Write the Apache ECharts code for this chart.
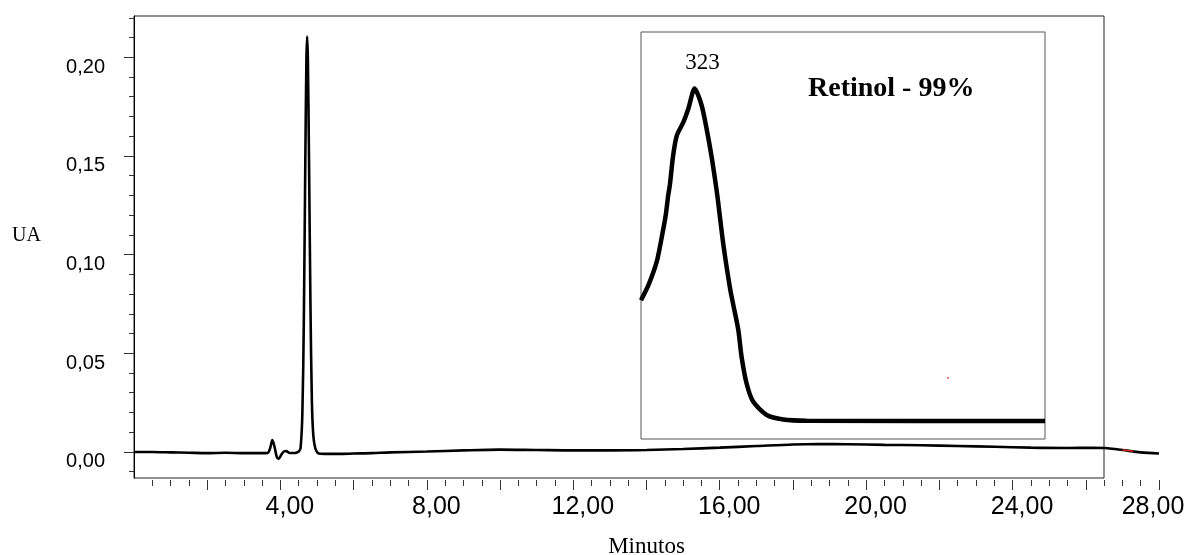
<!DOCTYPE html>
<html>
<head>
<meta charset="utf-8">
<script src="https://cdn.jsdelivr.net/npm/echarts@6/dist/echarts.min.js"></script>
<style>
  html, body { margin: 0; padding: 0; background: #fff; }
  #chart { width: 1190px; height: 555px; }
</style>
</head>
<body>
<div id="chart"></div>
<script>
// chromatogram: [minutes, UA]
const chromTime = [0.0, 0.5, 1.0, 1.5, 2.0, 2.5, 3.0, 3.5, 3.65, 3.72, 3.78, 3.84, 3.90, 3.95, 4.02, 4.10, 4.16, 4.25, 4.40,
  4.50, 4.55, 4.60, 4.64, 4.68, 4.71, 4.73, 4.75, 4.78, 4.82, 4.86, 4.90, 4.95, 5.00, 5.05, 5.3, 5.6, 6.0, 6.5, 7.0, 8.0,
  9.0, 10.0, 11.0, 12.0, 13.0, 14.0, 15.0, 16.0, 17.0, 18.0, 18.7, 19.5, 20.5, 21.5, 22.5, 23.5, 24.5, 25.5, 26.2, 26.6,
  27.0, 27.5, 28.0];
const chromUA = [0.0000, 0.0000, -0.0002, -0.0004, -0.0006, -0.0004, -0.0006, -0.0006, -0.0005, 0.0020, 0.0060, 0.0025, -0.0025, -0.0035, -0.0015, 0.0003, 0.0004, -0.0005, -0.0005,
  0.0002, 0.0020, 0.0200, 0.0680, 0.1480, 0.1990, 0.2105, 0.1990, 0.1500, 0.0750, 0.0250, 0.0080, 0.0020, 0.0000, -0.0008, -0.0010, -0.0010, -0.0008, -0.0006, -0.0002, 0.0002,
  0.0008, 0.0012, 0.0010, 0.0008, 0.0008, 0.0010, 0.0015, 0.0022, 0.0030, 0.0038, 0.0040, 0.0039, 0.0036, 0.0034, 0.0030, 0.0026, 0.0022, 0.0020, 0.0021, 0.0019,
  0.0010, -0.0002, -0.0008];
// small red trace near the end
const redTime = [27.0, 27.15, 27.3];
const redUA = [0.0010, 0.0007, 0.0003];

// inset UV spectrum: [nm, relative absorbance]
const specNm = [310.0, 311.8, 313.8, 315.0, 316.0, 316.6, 317.0, 317.8, 318.7, 320.3, 321.5, 323.0, 324.7, 325.9, 327.2, 328.4,
  328.8, 330.0, 331.6, 332.4, 333.6, 334.4, 335.6, 337.2, 340.5, 344.5, 350.2, 408.0];
const specAbs = [0.341, 0.378, 0.435, 0.494, 0.550, 0.599, 0.624, 0.697, 0.746, 0.779, 0.812, 0.861, 0.820, 0.763, 0.689, 0.607,
  0.575, 0.476, 0.370, 0.329, 0.268, 0.202, 0.137, 0.092, 0.059, 0.048, 0.045, 0.044];
const specPeakNm = 323;
const specPeakAbs = 0.861;
// stray red speck inside the inset
const speckNm = [384.5];
const speckAbs = [0.150];

const xLabelTicks = [4, 8, 12, 16, 20, 24, 28];
const yLabelTicks = [0, 0.05, 0.10, 0.15, 0.20];

const xMinor = [];
for (let i = 1; i <= 56; i++) xMinor.push(i * 0.5);
const xMid = [];
for (let i = 1; i <= 14; i++) xMid.push(i * 2);
const yMinor = [];
for (let i = -1; i <= 22; i++) yMinor.push(+(i * 0.01).toFixed(2));

const fmtComma = (v, d) => v.toFixed(d).replace('.', ',');

const chart = echarts.init(document.getElementById('chart'));
const SANS = 'Liberation Sans, Arial, sans-serif';
const SERIF = 'Liberation Serif, Times New Roman, serif';

chart.setOption({
  animation: false,
  backgroundColor: '#fff',
  title: [
    { text: 'Retinol - 99%', left: 803, top: 70,
      textStyle: { fontFamily: SERIF, fontWeight: 'bold', fontSize: 28, color: '#000' } },
    { text: 'UA', left: 7, top: 221,
      textStyle: { fontFamily: SERIF, fontWeight: 'normal', fontSize: 20, color: '#000' } }
  ],
  grid: [
    { left: 134, right: 31, top: 16, bottom: 77, outerBoundsMode: 'none', containLabel: false },
    { left: 134, right: 86, top: 16, bottom: 77, outerBoundsMode: 'none', show: true, borderColor: '#222', borderWidth: 1, backgroundColor: 'transparent' },
    { left: 641, top: 32, width: 404, height: 407, outerBoundsMode: 'none', show: true, borderColor: '#555', borderWidth: 1, backgroundColor: 'transparent' }
  ],
  xAxis: [
    { type: 'value', gridIndex: 0, position: 'bottom', min: 0, max: 28, offset: 2,
      axisLine: { show: false, onZero: false }, splitLine: { show: false },
      axisTick: { show: true, customValues: xMinor, length: 6, lineStyle: { color: '#333' } },
      axisLabel: { show: false } },
    { type: 'value', gridIndex: 0, position: 'bottom', min: 0, max: 28, offset: 2,
      name: 'Minutos', nameLocation: 'middle', nameGap: 55,
      nameTextStyle: { fontFamily: SERIF, fontSize: 23, color: '#000' },
      axisLine: { show: false, onZero: false }, splitLine: { show: false },
      axisTick: { show: true, customValues: xMid, length: 10, lineStyle: { color: '#333' } },
      axisLabel: { show: true, customValues: xLabelTicks, margin: 15, color: '#000',
        formatter: v => (v === 28 ? '{last|' : '{mid|') + fmtComma(v, 2) + '}',
        rich: {
          mid: { fontFamily: SANS, fontSize: 25, color: '#000', padding: [0, 0, 0, 19] },
          last: { fontFamily: SANS, fontSize: 25, color: '#000', padding: [0, 12, 0, 0] }
        } } },
    { type: 'value', gridIndex: 1, min: 0, max: 1, show: false },
    { type: 'value', gridIndex: 2, min: 310, max: 408, show: false }
  ],
  yAxis: [
    { type: 'value', gridIndex: 0, position: 'left', min: -0.0132, max: 0.2209,
      axisLine: { show: true, onZero: false, lineStyle: { color: '#000', width: 1 } }, splitLine: { show: false },
      axisTick: { show: true, customValues: yMinor, length: 5, lineStyle: { color: '#333' } },
      axisLabel: { show: false } },
    { type: 'value', gridIndex: 0, position: 'left', min: -0.0132, max: 0.2209,
      axisLine: { show: false, onZero: false }, splitLine: { show: false },
      axisTick: { show: true, customValues: yLabelTicks, length: 10, lineStyle: { color: '#333' } },
      axisLabel: { show: true, customValues: yLabelTicks, margin: 29, fontFamily: SANS, fontSize: 20, color: '#000',
        verticalAlign: 'top', formatter: v => fmtComma(v, 2) } },
    { type: 'value', gridIndex: 1, min: 0, max: 1, show: false },
    { type: 'value', gridIndex: 2, min: 0, max: 1, show: false }
  ],
  series: [
    { type: 'line', name: 'chromatogram', xAxisIndex: 0, yAxisIndex: 0,
      data: chromTime.map((t, i) => [t, chromUA[i]]),
      showSymbol: false, smooth: 0.3, lineStyle: { color: '#000', width: 2.6 }, z: 3 },
    { type: 'line', name: 'red', xAxisIndex: 0, yAxisIndex: 0,
      data: redTime.map((t, i) => [t, redUA[i]]),
      showSymbol: false, lineStyle: { color: '#d22', width: 1.5 }, z: 4 },
    { type: 'line', name: 'spectrum', xAxisIndex: 3, yAxisIndex: 3,
      data: specNm.map((n, i) => [n, specAbs[i]]),
      showSymbol: false, smooth: 0.25, lineStyle: { color: '#000', width: 4.5 }, z: 3,
      markPoint: {
        symbol: 'circle', symbolSize: 1, itemStyle: { color: 'transparent' },
        label: { show: true, position: 'top', offset: [8, -9], formatter: String(specPeakNm),
          fontFamily: SERIF, fontSize: 23, color: '#000' },
        data: [{ coord: [specPeakNm, specPeakAbs] }]
      } },
    { type: 'scatter', name: 'speck', xAxisIndex: 3, yAxisIndex: 3,
      data: speckNm.map((n, i) => [n, speckAbs[i]]),
      symbol: 'rect', symbolSize: 2, itemStyle: { color: '#e55' }, silent: true }
  ]
});
</script>
</body>
</html>
